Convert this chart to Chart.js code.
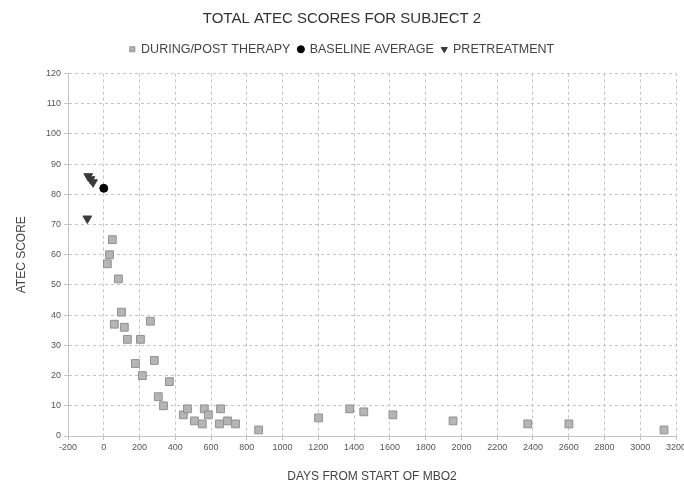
<!DOCTYPE html>
<html>
<head>
<meta charset="utf-8">
<script src="https://cdn.jsdelivr.net/npm/chart.js@4/dist/chart.umd.min.js"></script>
<style>
  html, body { margin: 0; padding: 0; background: #fff; }
  #wrap { width: 684px; height: 481px; }
</style>
</head>
<body>
<div id="wrap"><canvas id="c" width="684" height="481"></canvas></div>
<script>
// Days from start of MBO2 and total ATEC score, per series
const therapyDays   = [20, 32, 48, 82, 59, 99, 115, 132, 205, 261, 177, 283, 216, 367, 305, 334, 445, 468, 507, 551, 562, 585, 647, 653, 692, 737, 866, 1201, 1375, 1454, 1617, 1953, 2371, 2601, 3133];
const therapyScores = [57, 60, 65, 52, 37, 41, 36, 32, 32, 38, 24, 25, 20, 18, 13, 10, 7, 9, 5, 4, 9, 7, 4, 9, 5, 4, 2, 6, 9, 8, 7, 5, 4, 4, 2];

const baselineDays   = [0];
const baselineScores = [82];

const pretreatDays   = [-87, -74, -60, -92];
const pretreatScores = [86, 85, 84, 72];

const xTicks = { min: -200, max: 3200, step: 200 };
const yTicks = { min: 0, max: 120, step: 10 };

const toPoints = (xs, ys) => xs.map((x, i) => ({ x: x, y: ys[i] }));

const gridColor = '#c4c4c4';
const textColor = '#444';
const fontFamily = '"Liberation Sans", Arial, sans-serif';

new Chart(document.getElementById('c'), {
  type: 'scatter',
  data: {
    datasets: [
      {
        label: 'DURING/POST THERAPY',
        data: toPoints(therapyDays, therapyScores),
        pointStyle: 'rect',
        pointRadius: 5.5,
        pointHoverRadius: 5.5,
        backgroundColor: '#b5b5b5',
        borderColor: '#909090',
        borderWidth: 1
      },
      {
        label: 'BASELINE AVERAGE',
        data: toPoints(baselineDays, baselineScores),
        pointStyle: 'circle',
        pointRadius: 4,
        pointHoverRadius: 4,
        backgroundColor: '#000',
        borderColor: '#000',
        borderWidth: 1
      },
      {
        label: 'PRETREATMENT',
        data: toPoints(pretreatDays, pretreatScores),
        pointStyle: 'triangle',
        rotation: 180,
        pointRadius: 5,
        pointHoverRadius: 5,
        backgroundColor: '#3a3a3a',
        borderColor: '#3a3a3a',
        borderWidth: 1
      }
    ]
  },
  options: {
    responsive: false,
    animation: false,
    layout: { padding: { left: 0, right: 0, top: 0, bottom: 0 } },
    plugins: {
      tooltip: { enabled: false },
      title: {
        display: true,
        text: 'TOTAL ATEC SCORES FOR SUBJECT 2',
        color: '#333',
        font: { family: fontFamily, size: 15, weight: 'normal' },
        padding: { top: 10, bottom: 7 }
      },
      legend: {
        display: true,
        position: 'top',
        labels: {
          usePointStyle: true,
          boxWidth: 5,
          boxHeight: 5,
          padding: 8,
          color: textColor,
          font: { family: fontFamily, size: 12.5 }
        }
      }
    },
    scales: {
      x: {
        type: 'linear',
        min: xTicks.min,
        max: xTicks.max,
        afterFit: s => { s.height = 45; s.paddingRight = 8; },
        ticks: {
          stepSize: xTicks.step,
          autoSkip: false,
          maxRotation: 0,
          color: '#555',
          font: { family: fontFamily, size: 9 },
          padding: 2,
          callback: v => String(v)
        },
        grid: { color: gridColor, tickLength: 4 },
        border: { color: gridColor, dash: [3, 3] },
        title: {
          display: true,
          text: 'DAYS FROM START OF MBO2',
          color: textColor,
          font: { family: fontFamily, size: 12 },
          padding: { top: 9, bottom: -3 }
        }
      },
      y: {
        type: 'linear',
        min: yTicks.min,
        max: yTicks.max,
        afterFit: s => { s.width = 68; },
        ticks: {
          stepSize: yTicks.step,
          color: '#555',
          font: { family: fontFamily, size: 9 },
          padding: 3,
          callback: v => String(v)
        },
        grid: { color: gridColor, tickLength: 4 },
        border: { color: gridColor, dash: [3, 3] },
        title: {
          display: true,
          text: 'ATEC SCORE',
          color: textColor,
          font: { family: fontFamily, size: 12 },
          padding: { top: 14, bottom: 0 }
        }
      }
    }
  },
  plugins: [{
    id: 'legendGap',
    afterInit(chart) {
      // extra room between the legend row and the plot area
      const lg = chart.legend;
      if (!lg) return;
      const fit = lg.fit;
      lg.fit = function () { fit.call(this); this.height += 8; };
    }
  }, {
    id: 'dashedGrid',
    beforeInit(chart) {
      ['x', 'y'].forEach(k => {
        chart.options.scales[k].grid.borderDash = [3, 3];
      });
    }
  }]
});
</script>
</body>
</html>
